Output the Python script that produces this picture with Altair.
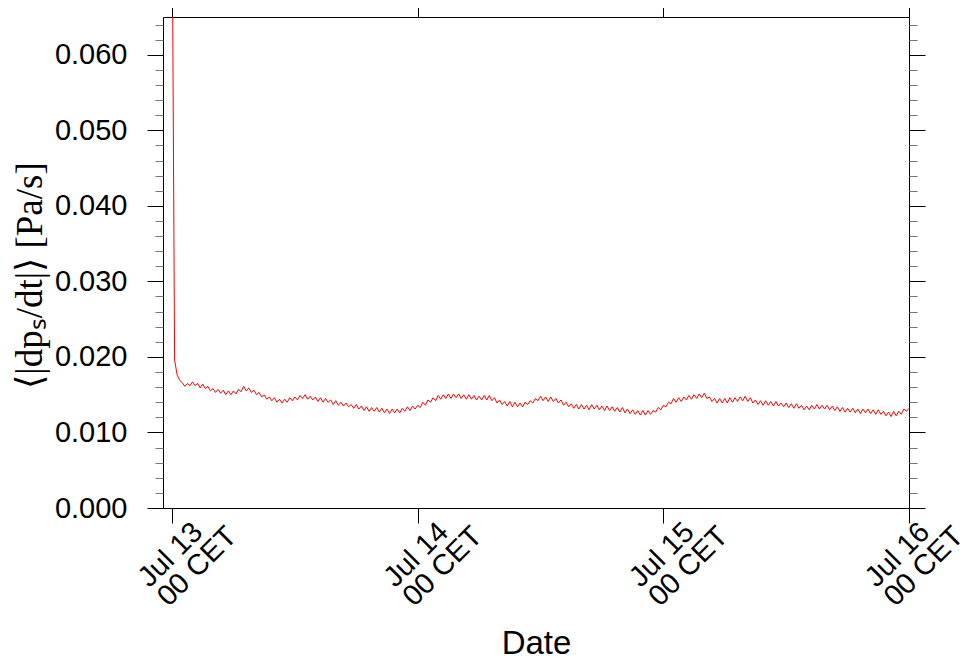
import altair as alt
import pandas as pd
from datetime import datetime, timedelta

# mean |dp_s/dt| in units of 1e-3 Pa/s, 15-minute samples from Jul 13 00 CET
vals_day1 = [
    82.0, 19.6, 17.6, 16.9,
    16.6, 16.1, 16.5, 16.2, 16.7, 16.2, 16.5, 15.9, 16.4, 15.8, 16.1, 15.5,
    15.8, 15.3, 15.7, 15.2, 15.6, 15.0, 15.5, 15.0, 15.5, 15.1, 15.7, 15.4,
    16.1, 15.5, 15.9, 15.3, 15.6, 15.0, 15.3, 14.7, 15.0, 14.4, 14.7, 14.2,
    14.6, 14.0, 14.4, 13.9, 14.4, 14.0, 14.6, 14.2, 14.7, 14.3, 14.9, 14.5,
    15.0, 14.4, 14.8, 14.3, 14.7, 14.1, 14.6, 14.0, 14.5, 14.0, 14.3, 13.7,
    14.2, 13.6, 14.0, 13.5, 13.9, 13.4, 13.7, 13.2, 13.7, 13.1, 13.5, 12.9,
    13.4, 12.8, 13.3, 12.8, 13.3, 12.7, 13.2, 12.6, 13.1, 12.5, 13.1, 12.6,
    13.1, 12.6, 13.2, 12.8, 13.4, 12.9, 13.5, 13.1,
]
vals_day2 = [
    13.6, 13.3, 14.0, 13.6, 14.3, 14.0, 14.6, 14.2, 14.9, 14.4, 15.0, 14.5,
    15.1, 14.5, 15.1, 14.6, 15.1, 14.5, 15.0, 14.4, 15.0, 14.4, 14.9, 14.3,
    14.8, 14.3, 14.9, 14.3, 14.9, 14.2, 14.6, 13.9, 14.3, 13.7, 14.1, 13.5,
    14.1, 13.4, 14.0, 13.4, 13.9, 13.4, 14.0, 13.7, 14.2, 13.9, 14.5, 14.2,
    14.8, 14.2, 14.7, 14.1, 14.7, 14.1, 14.5, 13.9, 14.3, 13.6, 14.0, 13.4,
    13.8, 13.2, 13.7, 13.1, 13.7, 13.1, 13.6, 13.0, 13.7, 13.1, 13.6, 13.0,
    13.5, 12.9, 13.5, 12.9, 13.4, 12.8, 13.3, 12.7, 13.3, 12.6, 13.1, 12.5,
    13.0, 12.4, 12.9, 12.3, 12.9, 12.3, 12.9, 12.4, 12.9, 12.7, 13.3, 13.0,
]
vals_day3 = [
    13.6, 13.4, 14.0, 13.8, 14.5, 14.0, 14.6, 14.1, 14.7, 14.3, 14.9, 14.4,
    15.0, 14.5, 15.1, 14.6, 15.2, 14.5, 14.7, 14.1, 14.5, 13.9, 14.5, 13.9,
    14.5, 13.9, 14.6, 14.0, 14.6, 14.1, 14.7, 14.2, 14.8, 14.1, 14.6, 13.9,
    14.3, 13.7, 14.2, 13.6, 14.2, 13.6, 14.1, 13.5, 14.1, 13.5, 13.9, 13.4,
    13.9, 13.3, 13.8, 13.2, 13.8, 13.2, 13.6, 13.0, 13.5, 13.0, 13.6, 13.1,
    13.7, 13.1, 13.6, 13.1, 13.6, 13.0, 13.5, 12.9, 13.4, 12.8, 13.3, 12.7,
    13.2, 12.7, 13.2, 12.6, 13.1, 12.5, 13.1, 12.6, 13.1, 12.5, 13.0, 12.4,
    13.0, 12.4, 12.8, 12.2, 12.7, 12.1, 12.8, 12.2, 12.8, 12.4, 13.1, 12.8,
    13.2,
]
vals = vals_day1 + vals_day2 + vals_day3
start = datetime(2023, 7, 13, 0, 0)
times = [(start + timedelta(minutes=15 * i)).strftime("%Y-%m-%dT%H:%M:%SZ") for i in range(len(vals))]
df = pd.DataFrame({"t": times, "v": [x * 1e-3 for x in vals]})

major_y = [0.0, 0.01, 0.02, 0.03, 0.04, 0.05, 0.06]
minor_y = [round(i * 0.002, 3) for i in range(33) if i % 5 != 0]
major_x = [alt.DateTime(year=2023, month=7, date=d, hours=0, utc=True) for d in (13, 14, 15, 16)]

xs = alt.Scale(type="utc", domain=[
    alt.DateTime(year=2023, month=7, date=12, hours=23, minutes=7, utc=True),
    alt.DateTime(year=2023, month=7, date=16, hours=0, minutes=0, utc=True)])
ys = alt.Scale(domain=[0, 0.065], nice=False, zero=False)

SANS = "Liberation Sans"

bottom_axis = alt.Axis(
    orient="bottom", values=major_x, tickSize=15, tickColor="black", tickWidth=1,
    domain=False, grid=False, labelAngle=-45, labelAlign="left", labelBaseline="alphabetic",
    labelExpr="[utcFormat(datum.value, '%b %d'), utcFormat(datum.value, '%H') + ' CET']",
    labelFont=SANS, labelFontSize=29, labelColor="black", labelLineHeight=27,
    labelOffset={"condition": {"test": "datum.value > 1689422400000", "value": -33}, "value": -23},
    labelPadding=65, labelOverlap=False, labelFlush=False, labelBound=False,
    title="Date", titleFont=SANS, titleFontSize=33, titleFontWeight="normal", titleColor="black",
    titleY=145, titleBaseline="alphabetic")
top_axis = alt.Axis(orient="top", values=major_x, tickSize=17, tickColor="black", labels=False,
                    domain=False, grid=False, title=None)
left_axis = alt.Axis(
    orient="left", values=major_y, format=".3f", tickSize=16, tickColor="black", tickWidth=1,
    domain=False, grid=False, labelFont=SANS, labelFontSize=29, labelColor="black", labelPadding=20,
    title="⟨|dpₛ/dt|⟩ [Pa/s]", titleFont="Liberation Serif", titleFontSize=37,
    titleFontWeight="normal", titleColor="black", titleAngle=-90, titleX=-133, titleY=258,
    titleAlign="center", titleBaseline="middle")
right_axis = alt.Axis(orient="right", values=major_y, tickSize=16, tickColor="black",
                      labels=False, domain=False, grid=False, title=None)
left_minor = alt.Axis(orient="left", values=minor_y, tickSize=8, tickColor="#777",
                      labels=False, domain=False, grid=False, title=None)
right_minor = alt.Axis(orient="right", values=minor_y, tickSize=8, tickColor="#777",
                       labels=False, domain=False, grid=False, title=None)

base = alt.Chart(df)
line = base.mark_line(color="#ff0000", strokeWidth=1, clip=True).encode(
    x=alt.X("t:T", scale=xs, axis=bottom_axis),
    y=alt.Y("v:Q", scale=ys, axis=left_axis))
frame = base.mark_line(opacity=0, clip=True).encode(
    x=alt.X("t:T", scale=xs, axis=top_axis),
    y=alt.Y("v:Q", scale=ys, axis=right_axis))
minor_l = base.mark_line(opacity=0, clip=True).encode(
    x=alt.X("t:T", scale=xs, axis=None),
    y=alt.Y("v:Q", scale=ys, axis=left_minor))
minor_r = base.mark_line(opacity=0, clip=True).encode(
    x=alt.X("t:T", scale=xs, axis=None),
    y=alt.Y("v:Q", scale=ys, axis=right_minor))

chart = alt.layer(line, frame, minor_l, minor_r).resolve_axis(
    x="independent", y="independent"
).properties(
    width=746, height=491,
    autosize=alt.AutoSizeParams(type="none"),
    padding={"left": 155, "top": 9, "right": 59, "bottom": 152},
    background="white",
).configure_view(stroke="black", strokeWidth=1)

chart.save("out.html", embed_options={"renderer": "svg", "actions": False})
